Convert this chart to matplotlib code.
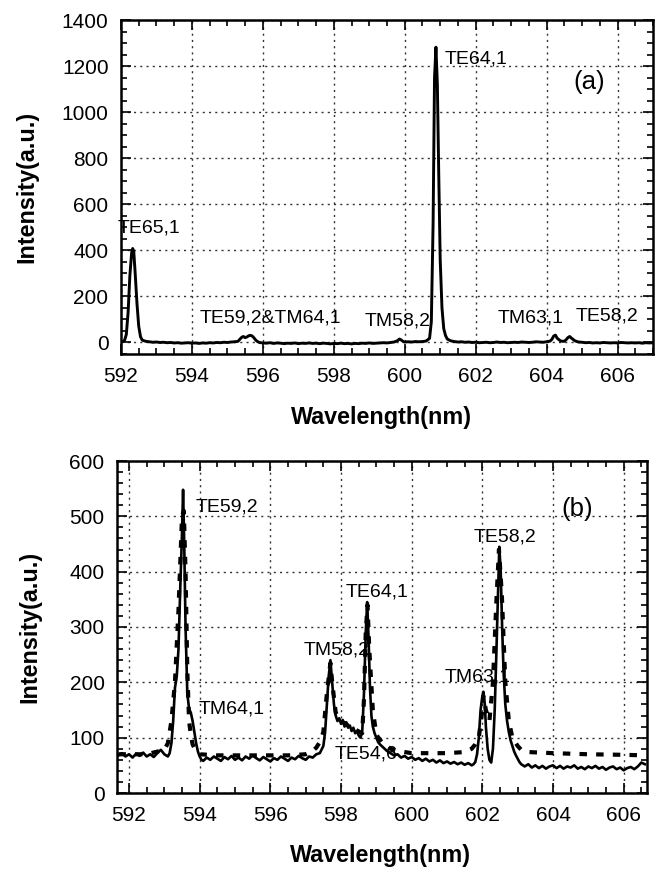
import matplotlib
matplotlib.use("Agg")
import matplotlib.pyplot as plt
from matplotlib.ticker import MultipleLocator

plt.rcParams['font.family'] = ['Liberation Sans', 'DejaVu Sans']

# ---------------- Panel (a) data ----------------
wl_a = [592.00, 592.05, 592.10, 592.15, 592.20, 592.25, 592.30, 592.33, 592.36, 592.40,
        592.45, 592.50, 592.55, 592.60, 592.70, 592.80, 592.90, 593.00, 593.10, 593.20,
        593.30, 593.40, 593.50, 593.60, 593.70, 593.80, 593.90, 594.00, 594.10, 594.20,
        594.30, 594.40, 594.50, 594.60, 594.70, 594.80, 594.90, 595.00, 595.10, 595.20,
        595.30, 595.35, 595.40, 595.45, 595.50, 595.55, 595.60, 595.65, 595.70, 595.75,
        595.80, 595.85, 595.90, 596.00, 596.10, 596.20, 596.30, 596.40, 596.50, 596.60,
        596.70, 596.80, 596.90, 597.00, 597.10, 597.20, 597.30, 597.40, 597.50, 597.60,
        597.70, 597.80, 597.90, 598.00, 598.10, 598.20, 598.30, 598.40, 598.50, 598.60,
        598.70, 598.80, 598.90, 599.00, 599.10, 599.20, 599.30, 599.40, 599.50, 599.60,
        599.70, 599.80, 599.85, 599.90, 599.95, 600.00, 600.10, 600.20, 600.30, 600.40,
        600.50, 600.60, 600.70, 600.75, 600.80, 600.84, 600.88, 600.92, 600.96, 601.00,
        601.05, 601.10, 601.15, 601.20, 601.30, 601.40, 601.50, 601.60, 601.70, 601.80,
        601.90, 602.00, 602.10, 602.20, 602.30, 602.40, 602.50, 602.60, 602.70, 602.80,
        602.90, 603.00, 603.10, 603.20, 603.30, 603.40, 603.50, 603.60, 603.70, 603.80,
        603.90, 604.00, 604.10, 604.15, 604.20, 604.25, 604.30, 604.40, 604.50, 604.55,
        604.60, 604.65, 604.70, 604.80, 604.90, 605.00, 605.10, 605.20, 605.30, 605.40,
        605.50, 605.60, 605.70, 605.80, 605.90, 606.00, 606.10, 606.20, 606.30, 606.40,
        606.50, 606.60, 606.70, 606.80, 606.90, 607.00]
int_a = [5, 4, 9, 35, 130, 290, 390, 408, 395, 300,
         170, 70, 25, 10, 5, 3, 1, 2, 0, 1,
         -1, 0, -2, -1, -3, -2, -1, -3, -2, -4,
         -2, -3, -1, -2, 0, -1, 1, 0, 2, 3,
         5, 14, 22, 26, 21, 24, 29, 31, 28, 20,
         10, 4, 0, -2, -3, -1, -4, -2, -3, -5,
         -3, -4, -2, -5, -3, -4, -2, -4, -3, -5,
         -3, -4, -6, -4, -5, -3, -5, -4, -6, -4,
         -5, -3, -4, -2, -4, -3, -2, -1, -2, 0,
         2, 8, 15, 11, 5, 2, 3, 2, 4, 3,
         4, 6, 18, 90, 520, 1150, 1282, 1120, 720, 360,
         150, 60, 30, 15, 7, 4, 2, 3, 1, 2,
         0, 1, -1, 0, 1, -1, 0, 2, 0, 1,
         -1, 0, 1, 0, 2, 1, 0, 1, 3, 2,
         1, 3, 6, 14, 28, 32, 18, 6, 5, 12,
         21, 26, 19, 7, 2, 1, -1, 0, -2, -1,
         -2, 0, -1, -2, -1, -2, 0, -1, -2, -1,
         -2, -1, -3, -1, -2, -1]

labels_a = ["TE65,1", "TE59,2&TM64,1", "TM58,2", "TE64,1", "TM63,1", "TE58,2", "(a)"]
label_a_x = [592.78, 596.22, 599.80, 602.00, 603.55, 605.70, 605.20]
label_a_y = [495, 108, 94, 1232, 108, 115, 1130]

# ---------------- Panel (b) data ----------------
wl_b = [591.70, 591.80, 591.90, 592.00, 592.10, 592.20, 592.30, 592.40, 592.50, 592.60,
        592.70, 592.80, 592.90, 593.00, 593.10, 593.15, 593.20, 593.25, 593.30, 593.35,
        593.40, 593.45, 593.50, 593.53, 593.56, 593.60, 593.65, 593.70, 593.75, 593.80,
        593.85, 593.90, 593.95, 594.00, 594.05, 594.10, 594.20, 594.30, 594.40, 594.50,
        594.60, 594.70, 594.80, 594.90, 595.00, 595.10, 595.20, 595.30, 595.40, 595.50,
        595.60, 595.70, 595.80, 595.90, 596.00, 596.10, 596.20, 596.30, 596.40, 596.50,
        596.60, 596.70, 596.80, 596.90, 597.00, 597.10, 597.20, 597.30, 597.40, 597.50,
        597.55, 597.60, 597.65, 597.70, 597.75, 597.80, 597.85, 597.90, 597.95, 598.00,
        598.05, 598.10, 598.15, 598.20, 598.25, 598.30, 598.35, 598.40, 598.45, 598.50,
        598.55, 598.60, 598.65, 598.70, 598.74, 598.78, 598.82, 598.86, 598.90, 598.95,
        599.00, 599.05, 599.10, 599.20, 599.30, 599.40, 599.50, 599.60, 599.70, 599.80,
        599.90, 600.00, 600.10, 600.20, 600.30, 600.40, 600.50, 600.60, 600.70, 600.80,
        600.90, 601.00, 601.10, 601.20, 601.30, 601.40, 601.50, 601.60, 601.70, 601.75,
        601.80, 601.85, 601.90, 601.95, 602.00, 602.03, 602.07, 602.10, 602.15, 602.20,
        602.25, 602.30, 602.35, 602.40, 602.45, 602.48, 602.52, 602.56, 602.60, 602.65,
        602.70, 602.75, 602.80, 602.85, 602.90, 602.95, 603.00, 603.05, 603.10, 603.20,
        603.30, 603.40, 603.50, 603.60, 603.70, 603.80, 603.90, 604.00, 604.10, 604.20,
        604.30, 604.40, 604.50, 604.60, 604.70, 604.80, 604.90, 605.00, 605.10, 605.20,
        605.30, 605.40, 605.50, 605.60, 605.70, 605.80, 605.90, 606.00, 606.10, 606.20,
        606.30, 606.40, 606.50, 606.60]
solid_b = [68, 72, 66, 70, 64, 71, 67, 73, 66, 70,
           65, 72, 78, 70, 66, 72, 90, 130, 190, 210,
           260, 370, 470, 548, 460, 300, 180, 152, 145, 130,
           110, 90, 75, 66, 60, 58, 64, 60, 66, 62,
           58, 65, 61, 67, 60, 64, 59, 66, 62, 68,
           63, 59, 65, 61, 57, 63, 60, 66, 62, 58,
           64, 61, 67, 63, 60, 66, 64, 70, 72, 85,
           110, 160, 210, 240, 200, 160, 140, 130, 135, 125,
           132, 120, 128, 118, 122, 112, 118, 108, 112, 104,
           100, 110, 180, 290, 345, 280, 190, 140, 120, 108,
           100, 92, 88, 82, 76, 72, 68, 70, 64, 67,
           62, 65, 60, 63, 58, 62, 57, 60, 55, 59,
           54, 57, 53, 56, 52, 55, 51, 54, 50, 52,
           56, 70, 100, 150, 175, 183, 160, 120, 80, 60,
           55, 80, 150, 260, 380, 445, 400, 300, 220, 160,
           130, 110, 95, 85, 75, 68, 62, 56, 52, 48,
           52, 46, 50, 45, 49, 44, 48, 50, 45, 49,
           44, 48, 46, 50, 44, 47, 43, 48, 45, 49,
           44, 47, 42, 46, 48, 43, 46, 41, 45, 47,
           43, 48, 55, 52]

wl_b_dash = [591.70, 592.50, 593.00, 593.10, 593.20, 593.30, 593.40, 593.50, 593.55, 593.60,
             593.65, 593.70, 593.75, 593.80, 593.90, 594.00, 594.50, 595.50, 596.50, 597.00,
             597.20, 597.30, 597.40, 597.50, 597.60, 597.70, 597.75, 597.85, 598.00, 598.30,
             598.60, 598.65, 598.70, 598.75, 598.80, 598.90, 599.00, 599.20, 599.40, 599.60,
             600.00, 601.00, 601.50, 601.70, 601.80, 601.90, 602.00, 602.03, 602.10, 602.20,
             602.30, 602.40, 602.47, 602.55, 602.65, 602.75, 602.85, 603.00, 603.10, 603.30,
             604.00, 605.00, 606.00, 606.60]
dash_b = [70, 70, 78, 90, 130, 200, 330, 500, 510, 400,
          220, 130, 105, 88, 75, 70, 68, 68, 68, 70,
          76, 82, 92, 110, 180, 235, 200, 145, 130, 118,
          108, 170, 290, 340, 260, 150, 105, 88, 80, 76,
          72, 72, 74, 80, 88, 100, 150, 175, 150, 130,
          200, 350, 440, 360, 200, 130, 100, 85, 78, 74,
          72, 70, 69, 68]

labels_b = ["TE59,2", "TM64,1", "TM58,2", "TE64,1", "TE54,6", "TM63,1", "TE58,2", "(b)"]
label_b_x = [594.78, 594.90, 597.87, 599.02, 598.70, 601.87, 602.65, 604.68]
label_b_y = [517, 152, 258, 363, 71, 210, 463, 514]

# ---------------- Figure ----------------
fig = plt.figure(figsize=(6.63, 8.71), dpi=100)
ax1 = fig.add_axes([121/663, 1-354/871, (653-121)/663, (354-20)/871])
ax2 = fig.add_axes([117/663, 1-793/871, (647-117)/663, (793-461)/871])


def style(ax, ymajor, yminor):
    ax.xaxis.set_major_locator(MultipleLocator(2))
    ax.xaxis.set_minor_locator(MultipleLocator(0.5))
    ax.yaxis.set_major_locator(MultipleLocator(ymajor))
    ax.yaxis.set_minor_locator(MultipleLocator(yminor))
    ax.tick_params(which='both', direction='in', top=True, right=True, width=1.2)
    ax.tick_params(which='major', length=7, labelsize=15, pad=9)
    ax.tick_params(which='minor', length=4)
    for s in ax.spines.values():
        s.set_linewidth(1.8)
    ax.grid(True, which='major', color='0.2', linestyle=(0, (1.5, 3)), linewidth=1.0)
    ax.set_axisbelow(True)


# Panel (a)
ax1.plot(wl_a, int_a, color='black', lw=2.1)
ax1.set_xlim(592, 607)
ax1.set_ylim(-50, 1400)
style(ax1, 200, 50)
ax1.set_xlabel("Wavelength(nm)", fontsize=16.8, fontweight='bold')
ax1.set_ylabel("Intensity(a.u.)", fontsize=16.8, fontweight='bold')
ax1.xaxis.set_label_coords(0.49, -0.19)
ax1.xaxis.label.set_va('center')
ax1.yaxis.set_label_coords(-0.177, 0.5)
ax1.yaxis.label.set_va('center')
for t, x, y in zip(labels_a, label_a_x, label_a_y):
    fs = 18.5 if t.startswith('(') else 14
    ax1.text(x, y, t, fontsize=fs, ha='center', va='center')

# Panel (b)
ax2.plot(wl_b_dash, dash_b, color='black', lw=3.0, linestyle=(0, (1.8, 2.2)))
ax2.plot(wl_b, solid_b, color='black', lw=1.9)
ax2.set_xlim(591.66, 606.66)
ax2.set_ylim(0, 600)
style(ax2, 100, 20)
ax2.set_xlabel("Wavelength(nm)", fontsize=16.8, fontweight='bold')
ax2.set_ylabel("Intensity(a.u.)", fontsize=16.8, fontweight='bold')
ax2.xaxis.set_label_coords(0.497, -0.187)
ax2.xaxis.label.set_va('center')
ax2.yaxis.set_label_coords(-0.164, 0.5)
ax2.yaxis.label.set_va('center')
for t, x, y in zip(labels_b, label_b_x, label_b_y):
    fs = 18.5 if t.startswith('(') else 14
    ax2.text(x, y, t, fontsize=fs, ha='center', va='center')

fig.savefig("out.png", dpi=100)
